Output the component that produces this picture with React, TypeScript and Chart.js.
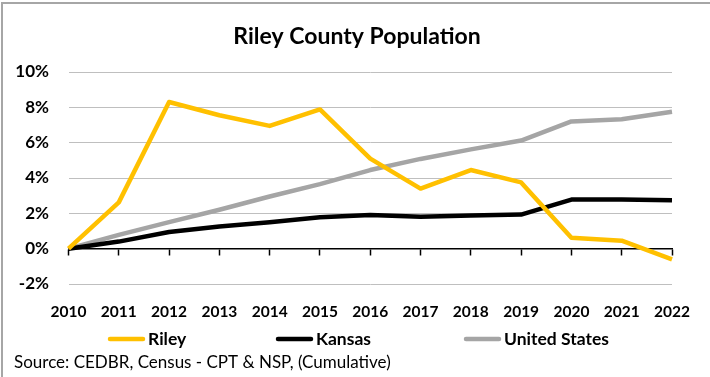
import React, { useEffect, useRef } from 'react';
import { Chart, registerables } from 'chart.js';

Chart.register(...registerables);

const chartTitle = 'Riley County Population';
const sourceNote = 'Source: CEDBR, Census - CPT & NSP, (Cumulative)';
const years = ['2010', '2011', '2012', '2013', '2014', '2015', '2016', '2017', '2018', '2019', '2020', '2021', '2022'];
const riley = [0, 2.62, 8.3, 7.55, 6.95, 7.88, 5.1, 3.4, 4.45, 3.75, 0.62, 0.45, -0.6];
const kansas = [0, 0.4, 0.94, 1.26, 1.5, 1.78, 1.9, 1.8, 1.88, 1.93, 2.78, 2.78, 2.74];
const unitedStates = [0, 0.78, 1.5, 2.2, 2.95, 3.65, 4.45, 5.08, 5.62, 6.12, 7.2, 7.33, 7.75];
const yMin = -2;
const yMax = 10;
const yStep = 2;

const FONT = 'Lato, "Open Sans", sans-serif';

const textLayer = {
  id: 'textLayer',
  afterDraw(chart: any) {
    const ctx = chart.ctx as CanvasRenderingContext2D;
    ctx.save();
    // title
    ctx.fillStyle = '#000';
    ctx.textBaseline = 'middle';
    ctx.textAlign = 'center';
    ctx.font = `bold 23px ${FONT}`;
    ctx.fillText(chartTitle, 357, 37);
    // legend
    const starts = [108, 276, 464];
    const y = 339;
    ctx.textAlign = 'left';
    chart.data.datasets.forEach((ds: any, i: number) => {
      const x = starts[i];
      ctx.beginPath();
      ctx.strokeStyle = ds.borderColor;
      ctx.lineWidth = 4.5;
      ctx.lineCap = 'round';
      ctx.moveTo(x + 2, y);
      ctx.lineTo(x + 35, y);
      ctx.stroke();
      ctx.fillStyle = '#000';
      ctx.font = `bold 17.5px ${FONT}`;
      ctx.fillText(ds.label, x + 40, y);
    });
    // source
    ctx.font = `17px ${FONT}`;
    ctx.fillStyle = '#000';
    ctx.fillText(sourceNote, 14, 363);
    ctx.restore();
  },
};

export default function App() {
  const ref = useRef<HTMLCanvasElement>(null);
  useEffect(() => {
    const chart = new Chart(ref.current!, {
      type: 'line',
      data: {
        labels: years,
        datasets: [
          { label: 'Riley', data: riley, borderColor: '#FFC000', backgroundColor: '#FFC000', borderWidth: 4.5, pointRadius: 0, borderJoinStyle: 'round', tension: 0 },
          { label: 'Kansas', data: kansas, borderColor: '#000000', backgroundColor: '#000000', borderWidth: 4.5, pointRadius: 0, borderJoinStyle: 'round', tension: 0 },
          { label: 'United States', data: unitedStates, borderColor: '#A5A5A5', backgroundColor: '#A5A5A5', borderWidth: 4.5, pointRadius: 0, borderJoinStyle: 'round', tension: 0 },
        ],
      },
      options: {
        animation: false,
        responsive: false,
        devicePixelRatio: 1,
        layout: { padding: { left: 14, right: 38, top: 72, bottom: 37 } },
        plugins: {
          legend: { display: false },
          tooltip: { enabled: false },
          title: { display: false },
        },
        scales: {
          x: {
            type: 'category',
            position: 'bottom',
            offset: false,
            grid: { display: false, drawTicks: false },
            border: { display: false },
            ticks: { font: { family: FONT, size: 15.5, weight: 'bold' }, color: '#000', padding: 18.7, maxRotation: 0, autoSkip: false },
          },
          x2: {
            type: 'category',
            axis: 'x',
            position: { y: 0 },
            offset: false,
            grid: { drawOnChartArea: false, drawTicks: true, tickLength: 6, color: '#000', tickColor: '#000', tickWidth: 1.5 },
            border: { display: true, color: '#000', width: 1.5 },
            ticks: { display: false },
          },
          y: {
            min: yMin,
            max: yMax,
            afterFit: (s: any) => { s.width = 54.5; },
            ticks: {
              stepSize: yStep,
              font: { family: FONT, size: 17, weight: 'bold' },
              color: '#000',
              padding: 19.5,
              callback: (v: any) => `${v}%`,
            },
            grid: { color: '#BFBFBF', lineWidth: 1, drawTicks: false },
            border: { display: false },
          },
        },
      } as any,
      plugins: [textLayer],
    });
    return () => chart.destroy();
  }, []);

  return (
    <div style={{ position: 'fixed', left: 0, top: 0, width: 710, height: 377, overflow: 'hidden', background: '#fff' }}>
      <canvas ref={ref} width={710} height={377} style={{ position: 'absolute', left: 0, top: 0, width: 710, height: 377 }} />
      <div style={{ position: 'absolute', left: 1, top: 2, width: 800, height: 500, borderLeft: '2px solid #A6A6A6', borderTop: '2px solid #A6A6A6', pointerEvents: 'none' }} />
    </div>
  );
}
